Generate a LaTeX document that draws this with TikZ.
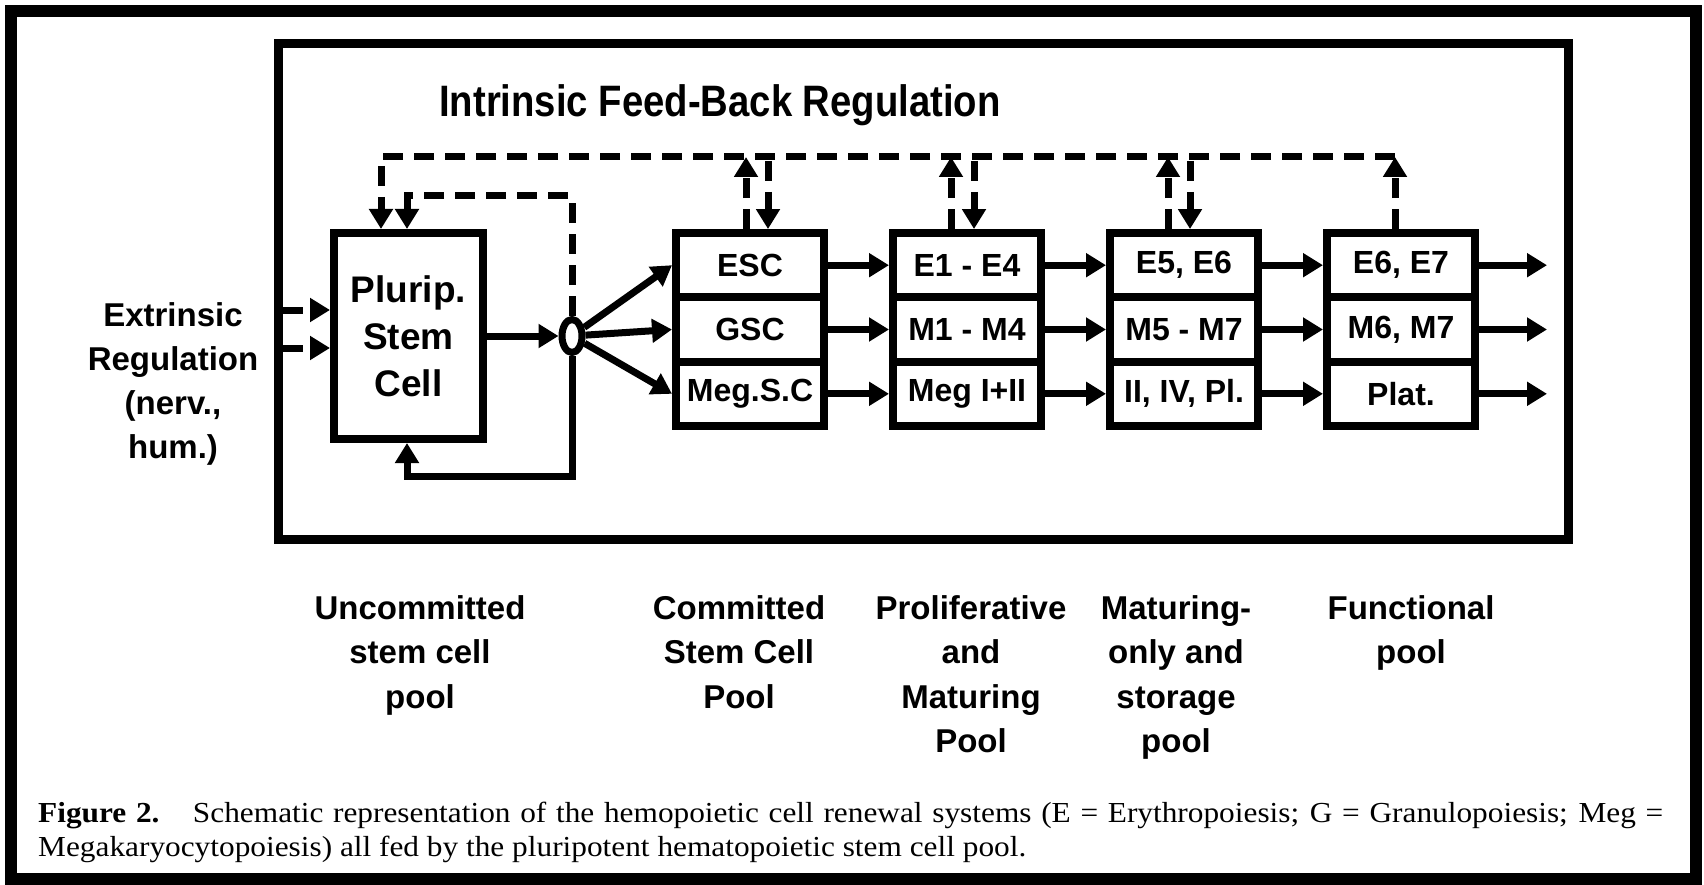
\documentclass[tikz,border=0pt]{standalone}
\usepackage{fontspec}
\setmainfont{Liberation Serif}
\newfontfamily\helv{Liberation Sans}
\newfontfamily\helvnarrow[FakeStretch=0.87]{Liberation Sans}
\newfontfamily\capfont[FakeStretch=1.08]{Liberation Serif}
\usetikzlibrary{arrows.meta,shapes.geometric,positioning}

\begin{document}
\begin{tikzpicture}[x=1pt,y=-1pt,
      every node/.style = {inner sep=0pt, font=\helv\bfseries},
      cellbox/.style = {draw, line width=8pt, minimum width=148pt,
        minimum height=64.3pt, font=\helv\bfseries\fontsize{32}{36}\selectfont},
      poollabel/.style = {anchor=north, align=center,
        font=\helv\bfseries\fontsize{33}{44.5}\selectfont},
      flow/.style = {line width=7pt, -{Triangle[length=20pt,width=23pt]}},
      fback/.style = {flow, dash pattern=on 20pt off 11pt}]
  \useasboundingbox (0,0) rectangle (1704,885);
  % frames
  \draw[line width=12pt] (11,11) rectangle (1696,879);
  \draw[line width=9pt] (278.5,43.5) rectangle (1568,539);
  \node[anchor=base, font=\helvnarrow\bfseries\fontsize{44}{48}\selectfont] (title)
    at (720,117) {Intrinsic Feed-Back Regulation};

  % stem cell and junction
  \node[draw, line width=8pt, minimum width=149pt, minimum height=206pt, align=center,
    font=\helv\bfseries\fontsize{37}{47}\selectfont] (psc) at (408.5,336) {Plurip.\\Stem\\Cell};
  \node[ellipse, draw, line width=7pt, minimum width=20pt, minimum height=33pt] (jct) at (572,336) {};

  % pools
  \node[cellbox] (esc)   at (750,265.2) {ESC};
  \node[cellbox] (gsc)   at (750,329.5) {GSC};
  \node[cellbox] (msc)   at (750,393.8) {Meg.S.C};
  \node[cellbox] (pe)    at (967,265.2) {E1 - E4};
  \node[cellbox] (pm)    at (967,329.5) {M1 - M4};
  \node[cellbox] (pmeg)  at (967,393.8) {Meg I+II};
  \node[cellbox] (me)    at (1184,265.2) {E5, E6};
  \node[cellbox] (mm)    at (1184,329.5) {M5 - M7};
  \node[cellbox] (mmeg)  at (1184,393.8) {II, IV, Pl.};
  \node[cellbox] (fe)    at (1401,265.2) {E6, E7};
  \node[cellbox] (fm)    at (1401,329.5) {M6, M7};
  \node[cellbox] (fplat) at (1401,393.8) {Plat.};

  % forward flow
  \draw[flow] (psc) -- (jct);
  \foreach \dest in {esc,gsc,msc}
    \draw[flow] (jct) -- (\dest.west);
  \foreach \src/\dest in {esc/pe,gsc/pm,msc/pmeg,pe/me,pm/mm,pmeg/mmeg,me/fe,mm/fm,mmeg/fplat}
    \draw[flow] (\src.east) -- (\dest.west);
  \foreach \src in {fe,fm,fplat}
    \draw[flow] (\src.east) -- ++(68,0);

  % self renewal loop
  \coordinate (ilc) at (407,196);
  \coordinate (blc) at (407,476);
  \draw[fback] (jct.north) -- (jct.north |- ilc) -- (ilc) -- (ilc |- psc.north);
  \draw[flow] (jct.south) -- (jct.south |- blc) -- (blc) -- (blc |- psc.south);

  % extrinsic regulation
  \coordinate (ext1) at (283,310);
  \coordinate (ext2) at (283,348);
  \draw[fback] (ext1) -- (ext1 -| psc.west);
  \draw[fback] (ext2) -- (ext2 -| psc.west);
  \node[anchor=north, align=center, font=\helv\bfseries\fontsize{33}{44}\selectfont] (extr)
    at (173,302) {Extrinsic\\Regulation\\(nerv.,\\hum.)};

  % intrinsic feed-back
  \coordinate (fbl) at (381,157);
  \coordinate (fbr) at (1395,157);
  \draw[fback] (fbr) -- (fbl) -- (fbl |- psc.north);
  \draw[fback] (fe.north -| fbr) -- (fbr);
  \foreach \top/\ux/\dx in {esc/746/768,pe/951/974,me/1168/1190} {
    \coordinate (up) at (\ux,157);
    \coordinate (dn) at (\dx,161);
    \draw[fback] (up |- \top.north) -- (up);
    \draw[fback] (dn) -- (dn |- \top.north);
  }

  % pool names
  \node[poollabel] (lunc) at (420,595) {Uncommitted\\stem cell\\pool};
  \node[poollabel] (lcom) at (739,595) {Committed\\Stem Cell\\Pool};
  \node[poollabel] (lpro) at (971,595) {Proliferative\\and\\Maturing\\Pool};
  \node[poollabel] (lmat) at (1176,595) {Maturing-\\only and\\storage\\pool};
  \node[poollabel] (lfun) at (1411,595) {Functional\\pool};

  % caption
  \node[anchor=north west, text width=1625pt, align=justify,
    font=\capfont\fontsize{29}{34}\selectfont] (cap) at (38,802)
    {\hyphenpenalty=10000\relax
     \textbf{Figure 2.}\hspace{0.6em} Schematic representation of the hemopoietic cell renewal
     systems (E = Erythropoiesis; G = Granulopoiesis; Meg~=\linebreak
     Megakaryocytopoiesis) all fed by the pluripotent hematopoietic stem cell pool.};
\end{tikzpicture}
\end{document}
